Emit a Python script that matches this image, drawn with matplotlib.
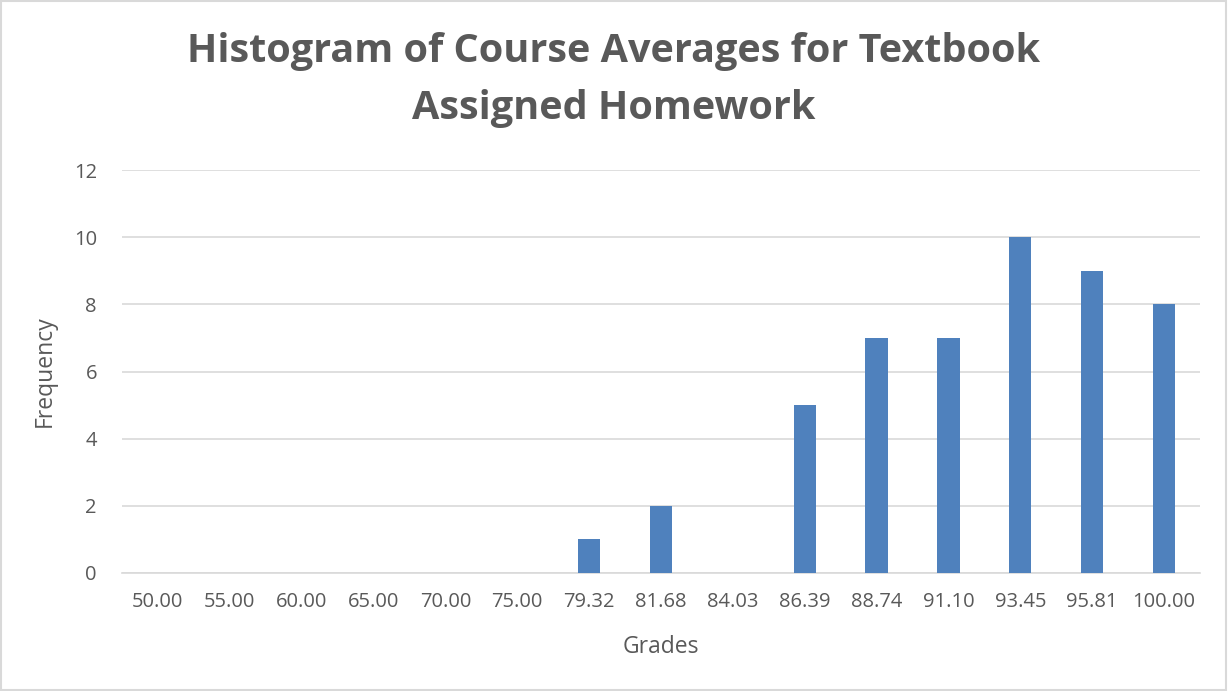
import numpy as np
import matplotlib.pyplot as plt
from matplotlib.patches import Rectangle

grades = ['50.00', '55.00', '60.00', '65.00', '70.00', '75.00', '79.32', '81.68',
          '84.03', '86.39', '88.74', '91.10', '93.45', '95.81', '100.00']
frequency = [0, 0, 0, 0, 0, 0, 1, 2, 0, 5, 7, 7, 10, 9, 8]
y_ticks = [0, 2, 4, 6, 8, 10, 12]

plt.rcParams['font.family'] = ['Open Sans', 'DejaVu Sans']

fig = plt.figure(figsize=(12.28, 6.91), dpi=100)
ax = fig.add_axes([122 / 1228, 118 / 691, 1078 / 1228, 403 / 691])

x = np.arange(len(grades))
ax.bar(x, frequency, width=0.31, color='#4f81bd', zorder=3)

ax.set_xlim(-0.5, len(grades) - 0.5)
ax.set_ylim(0, 12)
ax.set_yticks(y_ticks)
ax.set_xticks(x)
ax.set_xticklabels(grades)
ax.grid(axis='y', color='#d9d9d9', linewidth=1.2, zorder=0)
ax.tick_params(length=0, colors='#595959', labelsize=14.5)
ax.tick_params(axis='x', pad=14)
ax.tick_params(axis='y', pad=18)
for s in ['top', 'right', 'left']:
	ax.spines[s].set_visible(False)
ax.spines['bottom'].set_color('#d9d9d9')
ax.spines['bottom'].set_linewidth(1.2)

ax.set_xlabel('Grades', fontsize=16.5, color='#595959', labelpad=16)
ax.set_ylabel('Frequency', fontsize=16.5, color='#595959', labelpad=12)

fig.suptitle('Histogram of Course Averages for Textbook\nAssigned Homework',
             x=0.5, y=1 - 32 / 691, va='top', fontsize=28.5, fontweight='bold',
             color='#595959', linespacing=1.6)

fig.patches.append(Rectangle((0.0005, 0.001), 0.998, 0.997, transform=fig.transFigure,
                             fill=False, edgecolor='#d9d9d9', linewidth=1.5))

plt.savefig('out.png', dpi=100)
